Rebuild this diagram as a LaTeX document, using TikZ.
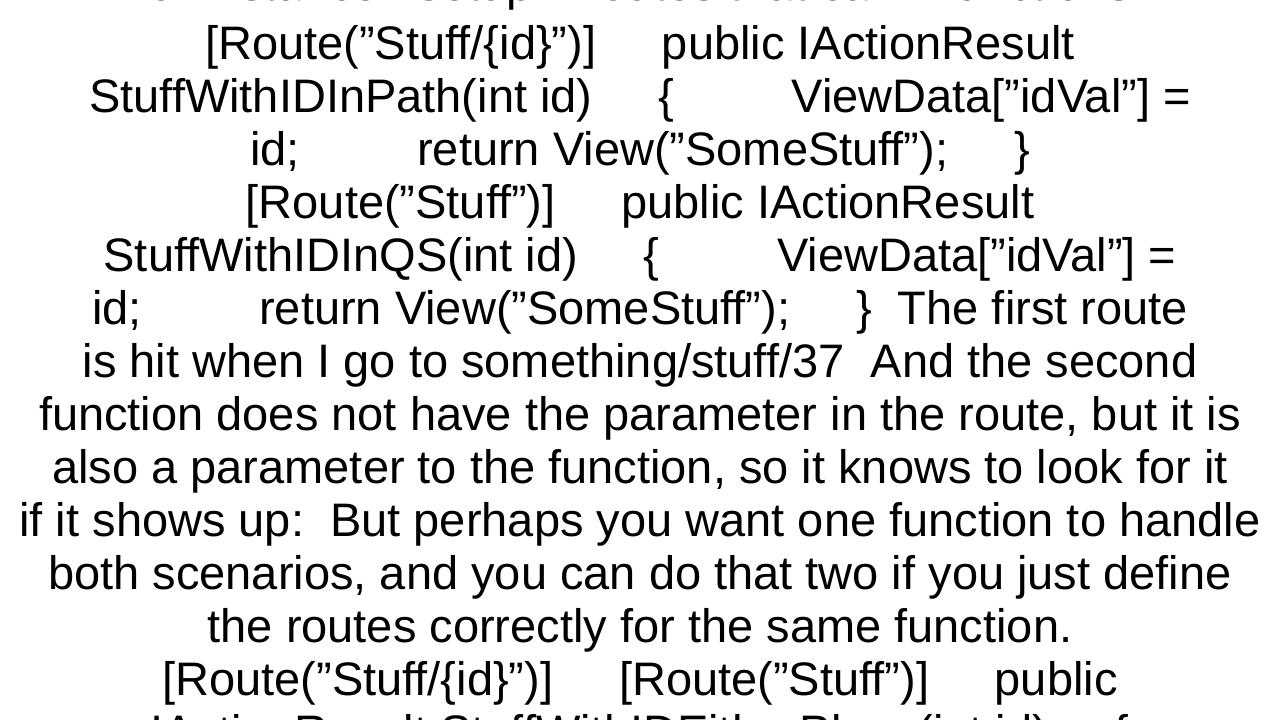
\documentclass[tikz,border=0pt]{standalone}
\usepackage{fontspec}
\defaultfontfeatures{}
\setmainfont{Liberation Sans}
\begin{document}
\begin{tikzpicture}[x=1pt,y=-1pt,ln/.style={anchor=base,inner sep=0pt,font=\fontsize{47}{50}\selectfont}]
\fill[white] (0,0) rectangle (1280,720);
\useasboundingbox (0,0) rectangle (1280,720);
\def\g{\hspace{1.4em}}
\def\G{\hspace{2.5em}}
\def\q{\symbol{34}}
\node[ln] (l0) at (640,1) {for instance I setup 2 routes that call 2 functions.};
\node[ln] (l1) at (640,59) {[Route(\q Stuff/\{id\}\q)]\g public IActionResult};
\node[ln] (l2) at (640,112) {StuffWithIDInPath(int id)\g \{\G ViewData[\q idVal\q] =};
\node[ln] (l3) at (640,165) {id;\G return View(\q SomeStuff\q);\g \}};
\node[ln] (l4) at (640,218) {[Route(\q Stuff\q)]\g public IActionResult};
\node[ln] (l5) at (640,271) {StuffWithIDInQS(int id)\g \{\G ViewData[\q idVal\q] =};
\node[ln] (l6) at (640,324) {id;\G return View(\q SomeStuff\q);\g \}\ \ The first route};
\node[ln] (l7) at (640,377) {is hit when I go to something/stuff/37\ \ And the second};
\node[ln] (l8) at (640,430) {function does not have the parameter in the route, but it is};
\node[ln] (l9) at (640,483) {also a parameter to the function, so it knows to look for it};
\node[ln] (l10) at (640,536) {if it shows up:\ \ But perhaps you want one function to handle};
\node[ln] (l11) at (640,589) {both scenarios, and you can do that two if you just define};
\node[ln] (l12) at (640,642) {the routes correctly for the same function.};
\node[ln] (l13) at (640,695) {[Route(\q Stuff/\{id\}\q)]\g [Route(\q Stuff\q)]\g public};
\node[ln] (l14) at (640,748) {IActionResult StuffWithIDEitherPlace(int id)\g \{};
\end{tikzpicture}
\end{document}
